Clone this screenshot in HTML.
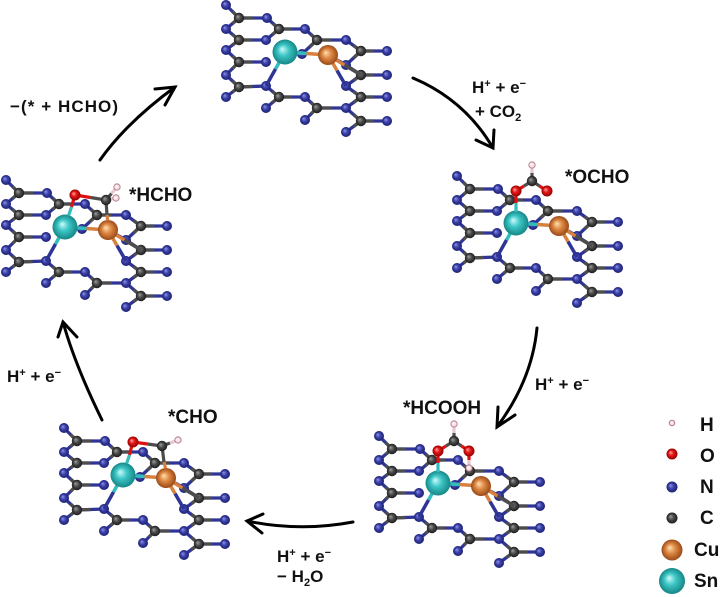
<!DOCTYPE html>
<html><head><meta charset="utf-8">
<style>
html,body{margin:0;padding:0;background:#fff;}
svg{display:block;}
text{font-family:"Liberation Sans",Arial,sans-serif;font-weight:bold;fill:#111;}
.s{font-size:19px;}
.r{font-size:17px;}
</style></head>
<body>
<svg width="720" height="597" viewBox="0 0 720 597" xmlns="http://www.w3.org/2000/svg">
<defs>
<radialGradient id="gN" cx=".5" cy=".5" r=".5" fx=".35" fy=".35"><stop offset="0" stop-color="#9096e6"/><stop offset=".5" stop-color="#3a40a8"/><stop offset="1" stop-color="#1c2070"/></radialGradient>
<radialGradient id="gC" cx=".5" cy=".5" r=".5" fx=".35" fy=".35"><stop offset="0" stop-color="#a0a0a0"/><stop offset=".5" stop-color="#4a4a4a"/><stop offset="1" stop-color="#1c1c1c"/></radialGradient>
<radialGradient id="gSn" cx=".5" cy=".5" r=".5" fx=".38" fy=".38"><stop offset="0" stop-color="#d0fbfb"/><stop offset=".45" stop-color="#3cc6c6"/><stop offset="1" stop-color="#168686"/></radialGradient>
<radialGradient id="gCu" cx=".5" cy=".5" r=".5" fx=".38" fy=".38"><stop offset="0" stop-color="#fde2b4"/><stop offset=".45" stop-color="#e08a45"/><stop offset="1" stop-color="#9a4a18"/></radialGradient>
<radialGradient id="gO" cx=".5" cy=".5" r=".5" fx=".35" fy=".35"><stop offset="0" stop-color="#ffa8a8"/><stop offset=".45" stop-color="#e81818"/><stop offset="1" stop-color="#900000"/></radialGradient>
<radialGradient id="gH" cx=".5" cy=".5" r=".5" fx=".4" fy=".4"><stop offset="0" stop-color="#ffffff"/><stop offset="1" stop-color="#ecc8d0"/></radialGradient>

<g id="lat">
 <path fill="none" stroke="#2f3596" stroke-width="3.3" stroke-linecap="round" d="M-46,-34L-59,-47M-46,-34L-59,-23M-46,-34L-18,-34M-46,-12L-59,-23M-46,-12L-59,-2M-46,-12L-19,-12M-46,10L-59,-2M-46,10L-59,23M-46,10L-19,10M-46,35L-59,23M-46,35L-59,45M-46,35L-19,34M-6,-23L-18,-34M-6,-23L20,-23M-6,-23L-19,-12M32,-12L20,-23M32,-12L61,-12M32,-12L17,2M76,-1L61,-12M76,-1L102,-1M76,-1L61,13M76,23L61,13M76,23L102,23M76,23L61,34M76,45L61,34M76,45L102,45M76,45L61,56M76,69L61,56M76,69L102,69M76,69L61,80M-6,45L-19,34M-6,45L20,45M-6,45L-19,56M32,56L20,45M32,56L61,56M32,56L20,68"/>
 <path fill="none" stroke="#4d4d4d" stroke-width="3.3" d="M-46,-34L-52.5,-40.5M-46,-34L-52.5,-28.5M-46,-34L-32,-34M-46,-12L-52.5,-17.5M-46,-12L-52.5,-7M-46,-12L-32.5,-12M-46,10L-52.5,4M-46,10L-52.5,16.5M-46,10L-32.5,10M-46,35L-52.5,29M-46,35L-52.5,40M-46,35L-32.5,34.5M-6,-23L-12,-28.5M-6,-23L7,-23M-6,-23L-12.5,-17.5M32,-12L26,-17.5M32,-12L46.5,-12M32,-12L24.5,-5M76,-1L68.5,-6.5M76,-1L89,-1M76,-1L68.5,6M76,23L68.5,18M76,23L89,23M76,23L68.5,28.5M76,45L68.5,39.5M76,45L89,45M76,45L68.5,50.5M76,69L68.5,62.5M76,69L89,69M76,69L68.5,74.5M-6,45L-12.5,39.5M-6,45L7,45M-6,45L-12.5,50.5M32,56L26,50.5M32,56L46.5,56M32,56L26,62"/>
 <g fill="url(#gN)">
  <circle cx="-59" cy="-47" r="5"/><circle cx="-18" cy="-34" r="5"/><circle cx="-59" cy="-23" r="5"/><circle cx="20" cy="-23" r="5"/><circle cx="-19" cy="-12" r="5"/><circle cx="61" cy="-12" r="5"/><circle cx="-59" cy="-2" r="5"/><circle cx="17" cy="2" r="5"/><circle cx="102" cy="-1" r="5"/><circle cx="-19" cy="10" r="5"/><circle cx="61" cy="13" r="5"/><circle cx="-59" cy="23" r="5"/><circle cx="102" cy="23" r="5"/><circle cx="-19" cy="34" r="5"/><circle cx="61" cy="34" r="5"/><circle cx="-59" cy="45" r="5"/><circle cx="20" cy="45" r="5"/><circle cx="102" cy="45" r="5"/><circle cx="-19" cy="56" r="5"/><circle cx="61" cy="56" r="5"/><circle cx="20" cy="68" r="5"/><circle cx="102" cy="69" r="5"/><circle cx="61" cy="80" r="5"/>
 </g>
 <g fill="url(#gC)">
  <circle cx="-46" cy="-34" r="5.2"/><circle cx="-6" cy="-23" r="5.2"/><circle cx="-46" cy="-12" r="5.2"/><circle cx="32" cy="-12" r="5.2"/><circle cx="76" cy="-1" r="5.2"/><circle cx="-46" cy="10" r="5.2"/><circle cx="76" cy="23" r="5.2"/><circle cx="-46" cy="35" r="5.2"/><circle cx="-6" cy="45" r="5.2"/><circle cx="76" cy="45" r="5.2"/><circle cx="32" cy="56" r="5.2"/><circle cx="76" cy="69" r="5.2"/>
 </g>
 <g fill="none" stroke-width="3.5">
  <path stroke="#32bcbc" d="M0,0L21.5,1.5M0,0L-9.5,17"/>
  <path stroke="#2f3596" d="M-9.5,17L-19,34M52,8L61,13M52,18.5L61,34"/>
  <path stroke="#d8803e" d="M21.5,1.5L43,3M43,3L52,8M43,3L59.5,13M43,3L52,18.5"/>
  <path stroke="#4d4d4d" d="M59.5,13L76,23"/>
 </g>
 <circle cx="43" cy="3" r="10" fill="url(#gCu)"/>
 <circle cx="0" cy="0" r="12.5" fill="url(#gSn)"/>
</g>
</defs>

<use href="#lat" transform="translate(285,52)"/>
<use href="#lat" transform="translate(65,227)"/>
<use href="#lat" transform="translate(516,223)"/>
<use href="#lat" transform="translate(438,483)"/>
<use href="#lat" transform="translate(123,475)"/>

<!-- *OCHO -->
<g transform="translate(516,223)">
 <g fill="none" stroke-width="3.2">
  <path stroke="#e01010" d="M0,-27L0,-20M0,-32L8,-37M23.5,-37L31,-32"/>
  <path stroke="#32bcbc" d="M0,-20L0,-11"/>
  <path stroke="#4d4d4d" d="M8,-37L16,-42L23.5,-37M16,-42L16,-50"/>
  <path stroke="#e8c8d0" d="M16,-50L16,-57"/>
 </g>
 <circle cx="0" cy="-32" r="5.5" fill="url(#gO)"/>
 <circle cx="31" cy="-32" r="5.5" fill="url(#gO)"/>
 <circle cx="16" cy="-42" r="5.2" fill="url(#gC)"/>
 <circle cx="16" cy="-58" r="3.2" fill="url(#gH)" stroke="#b07080" stroke-width=".8"/>
</g>

<!-- *HCOOH -->
<g transform="translate(438,483)">
 <g fill="none" stroke-width="3.2">
  <path stroke="#e01010" d="M0,-27L0,-20M0,-32L8,-37M23.5,-37L31,-32M31,-32L31,-23"/>
  <path stroke="#32bcbc" d="M0,-20L0,-11"/>
  <path stroke="#4d4d4d" d="M8,-37L16,-42L23.5,-37M16,-42L16,-50"/>
  <path stroke="#e8c8d0" d="M16,-50L16,-57M31,-23L31,-16"/>
 </g>
 <circle cx="0" cy="-32" r="5.5" fill="url(#gO)"/>
 <circle cx="31" cy="-32" r="5.5" fill="url(#gO)"/>
 <circle cx="16" cy="-42" r="5.2" fill="url(#gC)"/>
 <circle cx="16" cy="-59" r="3.2" fill="url(#gH)" stroke="#b07080" stroke-width=".8"/>
 <circle cx="31" cy="-15" r="3.2" fill="url(#gH)" stroke="#b07080" stroke-width=".8"/>
</g>

<!-- *HCHO -->
<g transform="translate(65,227)">
 <g fill="none" stroke-width="3.2">
  <path stroke="#e01010" d="M8.5,-27L6.5,-20M10,-32L25.5,-29.5"/>
  <path stroke="#32bcbc" d="M6.5,-20L3.6,-11.5"/>
  <path stroke="#4d4d4d" d="M25.5,-29.5L41,-27M41,-27L46.5,-33.5M41,-27L46,-28M41,-27L42,-12"/>
  <path stroke="#e8c8d0" d="M46.5,-33.5L52,-40M46,-28L51,-29"/>
  <path stroke="#d8803e" d="M42,-12L42.7,-6.5"/>
 </g>
 <circle cx="10" cy="-32" r="5.5" fill="url(#gO)"/>
 <circle cx="41" cy="-27" r="5.2" fill="url(#gC)"/>
 <circle cx="52" cy="-40" r="3.2" fill="url(#gH)" stroke="#b07080" stroke-width=".8"/>
 <circle cx="51" cy="-29" r="3.2" fill="url(#gH)" stroke="#b07080" stroke-width=".8"/>
</g>

<!-- *CHO -->
<g transform="translate(123,475)">
 <g fill="none" stroke-width="3.2">
  <path stroke="#e01010" d="M8.5,-28L6.5,-20M10,-33L24.5,-31"/>
  <path stroke="#32bcbc" d="M6.5,-20L3.6,-11.5"/>
  <path stroke="#4d4d4d" d="M24.5,-31L39,-29M39,-29L47,-32M39,-29L41,-13"/>
  <path stroke="#e8c8d0" d="M47,-32L55,-35"/>
  <path stroke="#d8803e" d="M41,-13L42.5,-6.5"/>
 </g>
 <circle cx="10" cy="-33" r="5.5" fill="url(#gO)"/>
 <circle cx="39" cy="-29" r="5.2" fill="url(#gC)"/>
 <circle cx="55" cy="-35" r="3.2" fill="url(#gH)" stroke="#b07080" stroke-width=".8"/>
</g>

<!-- arrows -->
<g fill="none" stroke="#000" stroke-width="3" stroke-linecap="round" stroke-linejoin="miter">
 <path d="M100,160 Q126,123 175,87"/>
 <polyline points="155,89 175,87 165,105"/>
 <path d="M413,78 Q465,100 493,148"/>
 <polyline points="476,140 493,148 494,130"/>
 <path d="M537,328 Q532,380 497,427"/>
 <polyline points="498,407 497,427 515,415"/>
 <path d="M353,522 Q300,532 247,521"/>
 <polyline points="263,514 247,521 262,533"/>
 <path d="M102,420 Q75,365 63,322"/>
 <polyline points="58,337 63,322 77,337"/>
</g>

<!-- labels -->
<text class="r" x="10" y="112" textLength="108" lengthAdjust="spacing">−(* + HCHO)</text>
<text class="s" x="129" y="201">*HCHO</text>
<text class="r" x="472" y="93">H<tspan font-size="11" dy="-6">+</tspan><tspan dy="6"> + e</tspan><tspan font-size="11" dy="-6">−</tspan></text>
<text class="r" x="475" y="117">+ CO<tspan font-size="11" dy="4">2</tspan></text>
<text class="s" x="565" y="183">*OCHO</text>
<text class="r" x="535" y="390">H<tspan font-size="11" dy="-6">+</tspan><tspan dy="6"> + e</tspan><tspan font-size="11" dy="-6">−</tspan></text>
<text class="s" x="403" y="414">*HCOOH</text>
<text class="s" x="168" y="423">*CHO</text>
<text class="r" x="277" y="562">H<tspan font-size="11" dy="-6">+</tspan><tspan dy="6"> + e</tspan><tspan font-size="11" dy="-6">−</tspan></text>
<text class="r" x="277" y="582">− H<tspan font-size="11" dy="4">2</tspan><tspan dy="-4">O</tspan></text>
<text class="r" x="7" y="382">H<tspan font-size="11" dy="-6">+</tspan><tspan dy="6"> + e</tspan><tspan font-size="11" dy="-6">−</tspan></text>

<!-- legend -->
<circle cx="672" cy="423" r="2.8" fill="url(#gH)" stroke="#b07080" stroke-width=".9"/>
<circle cx="672" cy="454" r="5.5" fill="url(#gO)"/>
<circle cx="672" cy="487" r="5.5" fill="url(#gN)"/>
<circle cx="672" cy="518" r="5.5" fill="url(#gC)"/>
<circle cx="672" cy="550" r="10.5" fill="url(#gCu)"/>
<circle cx="672" cy="581" r="13" fill="url(#gSn)"/>
<text class="s" x="700" y="431">H</text>
<text class="s" x="700" y="462">O</text>
<text class="s" x="700" y="493">N</text>
<text class="s" x="700" y="524">C</text>
<text class="s" x="694" y="556">Cu</text>
<text class="s" x="694" y="587">Sn</text>
</svg>
</body></html>
